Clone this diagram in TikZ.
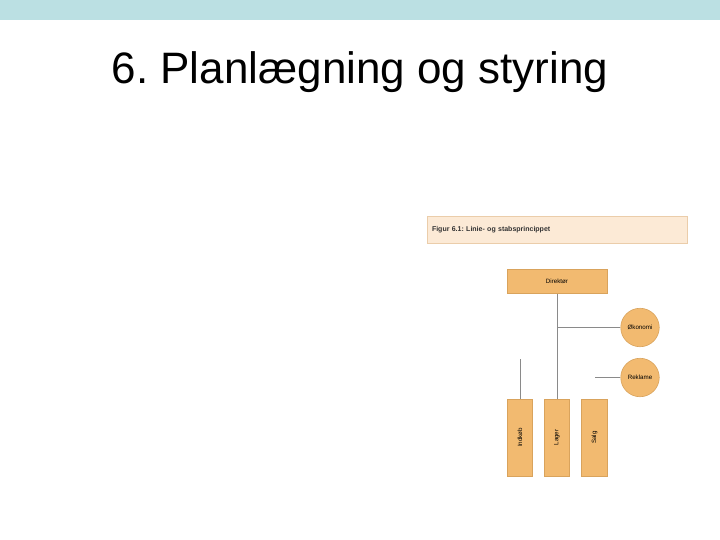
\documentclass[tikz,border=0pt]{standalone}
\usepackage{fontspec}
\setmainfont{Liberation Sans}
\frenchspacing
\definecolor{band}{HTML}{BBE0E3}
\definecolor{orgfill}{HTML}{F2BA70}
\definecolor{orgline}{HTML}{D9A35C}
\definecolor{capfill}{HTML}{FCEAD6}
\definecolor{capline}{HTML}{EBCDAA}
\definecolor{conn}{HTML}{8A8A8A}
\begin{document}
\begin{tikzpicture}[x=1pt,y=-1pt,
  orgbox/.style={draw=orgline,fill=orgfill,line width=0.6pt,inner sep=0pt,font=\fontsize{6.2}{7}\selectfont},
  orgcirc/.style={circle,draw=orgline,fill=orgfill,line width=0.6pt,inner sep=0pt,minimum size=38.5pt,font=\fontsize{6.2}{7}\selectfont},
  unit/.style={orgbox,minimum width=25.5pt,minimum height=77pt},
  conline/.style={draw=conn,line width=0.6pt}]
\useasboundingbox (0,0) rectangle (720,540);
\fill[band] (0,0) rectangle (720,20);
\node[anchor=base,font=\fontsize{44}{50}\selectfont] (title) at (360,84) {6. Planlægning og styring};
\node[draw=capline,fill=capfill,line width=0.6pt,text width=250pt,inner sep=5pt,minimum height=27pt,align=left,font=\bfseries\fontsize{7}{8}\selectfont,text=black!80] (caption) at (557,229.5) {Figur 6.1: Linie- og stabsprincippet};
\node[orgbox,minimum width=100pt,minimum height=24pt] (dir) at (557,281.5) {Direktør};
\node[orgcirc] (oko) at (640,327.5) {Økonomi};
\node[orgcirc] (rek) at (640,377.5) {Reklame};
\node[unit] (ind) at (520,437.5) {\rotatebox{90}{Indkøb}};
\node[unit] (lag) at (557,437.5) {\rotatebox{90}{Lager}};
\node[unit] (salg) at (594.5,437.5) {\rotatebox{90}{Salg}};
\coordinate (junc) at (557,327.5);
\coordinate (rekstart) at (595,377.5);
\coordinate (indtop) at (520,359);
\draw[conline] (dir.south) -- (lag.north);
\draw[conline] (junc) -- (oko.west);
\draw[conline] (rekstart) -- (rek.west);
\draw[conline] (indtop) -- (ind.north);
\end{tikzpicture}
\end{document}
